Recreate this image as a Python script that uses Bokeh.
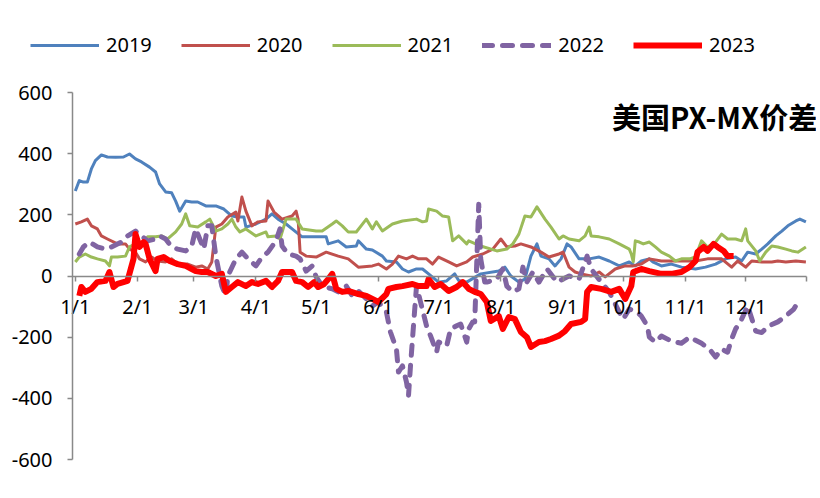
from bokeh.plotting import figure
from bokeh.models import Range1d, FixedTicker, Legend, LegendItem, Label
from bokeh.embed import file_html
from bokeh.resources import INLINE

# x = day of year (0 = 1/1)
month_ticks = [0, 31, 59, 90, 120, 151, 181, 212, 243, 273, 304, 334]
month_labels = ["1/1", "2/1", "3/1", "4/1", "5/1", "6/1", "7/1", "8/1", "9/1", "10/1", "11/1", "12/1"]
x_start = -1.4
x_end = 364.3
y_ticks = [-600, -400, -200, 0, 200, 400, 600]
y_tick_labels = ["-600", "-400", "-200", "0", "200", "400", "600"]

d2019 = [0, 2, 4, 6, 8, 10, 13, 16, 20, 24, 27, 30, 33, 37, 40, 42, 45, 48, 50, 52, 55, 58, 61, 65, 70, 74, 78, 81, 84, 85,
         90, 95, 98, 101, 105, 108, 113, 118, 125, 126, 131, 135, 140, 141, 145, 148, 153, 155, 160, 163, 166, 170, 173, 176,
         181, 185, 189, 191, 195, 202, 211, 214, 217, 221, 224, 227, 230, 232, 236, 239, 242, 245, 247, 251, 256, 261, 266,
         271, 276, 279, 282, 286, 288, 292, 297, 302, 309, 314, 319, 324, 329, 332, 335, 339, 342, 345, 349, 352, 355, 359,
         361, 364]
v2019 = [278, 312, 307, 307, 350, 377, 396, 389, 388, 389, 399, 383, 373, 356, 340, 301, 275, 272, 245, 212, 245, 242, 242,
         229, 229, 219, 196, 193, 193, 160, 170, 186, 203, 186, 170, 154, 128, 128, 128, 105, 115, 95, 98, 115, 88, 85, 65,
         49, 46, 23, 13, 23, 23, 7, -20, -16, 7, -15, -20, 7, 16, 29, 0, -20, -10, 65, 105, 65, 56, 33, 56, 105, 95, 56, 56,
         62, 49, 33, 46, 33, 49, 56, 45, 33, 39, 29, 23, 29, 39, 56, 62, 49, 78, 72, 88, 105, 131, 147, 164, 180, 186, 177]

d2020 = [0, 3, 6, 8, 11, 13, 16, 21, 25, 27, 30, 32, 35, 38, 41, 45, 48, 51, 56, 60, 63, 66, 68, 70, 73, 76, 80, 81, 83, 85,
         88, 91, 95, 96, 99, 103, 108, 110, 111, 112, 115, 120, 125, 131, 136, 141, 148, 151, 155, 158, 161, 165, 168, 171,
         175, 178, 181, 186, 190, 195, 198, 203, 208, 212, 215, 219, 222, 227, 232, 236, 241, 243, 246, 249, 252, 257, 261,
         264, 269, 274, 278, 282, 286, 292, 301, 309, 315, 322, 327, 330, 334, 337, 342, 347, 350, 354, 359, 364]
v2020 = [170, 177, 186, 164, 154, 131, 121, 105, 105, 88, 78, 56, 46, 62, 49, 46, 56, 39, 39, 29, 33, 23, 46, 160, 170, 193,
         209, 180, 258, 212, 164, 177, 180, 245, 209, 186, 196, 212, 186, 78, 65, 62, 78, 65, 56, 29, 33, 39, 23, 39, 65, 56,
         65, 56, 56, 39, 62, 46, 33, 46, 62, 72, 88, 121, 95, 98, 105, 95, 78, 62, 72, 78, 29, 13, 7, 0, 13, -3, 23, 33, 33,
         39, 56, 49, 49, 49, 56, 56, 29, 49, 29, 49, 46, 46, 49, 46, 49, 46]

d2021 = [0, 2, 5, 8, 11, 15, 17, 18, 21, 25, 27, 30, 33, 36, 40, 43, 46, 50, 53, 55, 57, 61, 65, 67, 70, 73, 76, 78, 80, 82,
         85, 90, 95, 96, 100, 102, 105, 110, 113, 120, 123, 128, 130, 133, 136, 140, 145, 148, 150, 153, 158, 163, 170, 173,
         175, 176, 180, 183, 186, 188, 191, 195, 196, 202, 210, 215, 218, 221, 224, 227, 230, 234, 237, 241, 243, 246, 251,
         254, 256, 257, 261, 266, 271, 276, 277, 278, 279, 281, 283, 286, 289, 292, 296, 299, 302, 306, 309, 312, 315, 319,
         322, 325, 329, 332, 334, 335, 339, 341, 344, 347, 350, 354, 357, 360, 364]
v2021 = [46, 62, 72, 62, 56, 49, 33, 62, 62, 65, 95, 105, 105, 128, 128, 131, 121, 144, 170, 203, 164, 160, 177, 186, 147,
         154, 170, 186, 160, 144, 154, 131, 144, 128, 131, 121, 186, 186, 154, 147, 147, 170, 180, 164, 144, 144, 186, 154,
         177, 147, 170, 180, 186, 177, 180, 219, 212, 196, 193, 115, 131, 105, 115, 98, 82, 88, 105, 137, 196, 193, 226, 186,
         160, 121, 131, 121, 115, 131, 160, 131, 128, 121, 105, 88, 72, 46, 115, 111, 105, 111, 95, 78, 65, 49, 56, 56, 62,
         115, 95, 111, 137, 121, 121, 115, 154, 115, 82, 49, 78, 98, 95, 88, 82, 78, 95]

d2022 = [2, 4, 7, 11, 15, 18, 23, 26, 30, 33, 36, 40, 42, 45, 48, 51, 55, 58, 60, 62, 64, 66, 68, 70, 73, 75, 76, 80, 83, 86,
         90, 93, 96, 100, 102, 103, 106, 110, 112, 115, 118, 120, 123, 128, 131, 135, 138, 141, 145, 148, 151, 155, 157, 160,
         161, 163, 165, 166, 167, 168, 169, 170, 172, 175, 177, 180, 181, 185, 187, 190, 192, 195, 196, 198, 199, 201, 202,
         204, 205, 210, 213, 215, 218, 221, 223, 225, 228, 231, 235, 240, 243, 246, 251, 255, 257, 262, 266, 271, 273, 276,
         280, 282, 285, 286, 289, 292, 297, 302, 306, 312, 316, 319, 322, 325, 327, 329, 332, 335, 339, 342, 345, 350, 354,
         358, 361]
v2022 = [72, 95, 111, 95, 88, 95, 111, 131, 147, 131, 115, 121, 131, 121, 95, 88, 82, 98, 154, 121, 88, 164, 164, 65, -33,
         -65, 0, 56, 78, 56, 33, 62, 78, 115, 154, 98, 72, 65, 56, 16, 33, -3, -33, -42, -52, -33, -65, -49, -75, -98, -85,
         -118, -183, -239, -314, -294, -347, -392, -294, -206, -118, -33, -85, -163, -196, -249, -216, -229, -173, -163, -157,
         -216, -173, -150, -150, 235, 56, -20, -20, -10, 23, -33, -52, -42, 29, -20, 13, -20, 23, -20, -10, 0, -10, 65, 23,
         -20, -52, -118, -141, -108, -118, -131, -163, -200, -216, -196, -213, -220, -200, -220, -239, -265, -239, -249, -206,
         -173, -141, -98, -180, -185, -165, -150, -131, -108, -75]

d2023 = [2, 3, 5, 8, 11, 15, 17, 19, 21, 24, 26, 29, 30, 32, 34, 35, 37, 40, 41, 44, 47, 51, 55, 58, 60, 63, 66, 70, 73, 75,
         78, 81, 85, 88, 91, 95, 98, 101, 103, 108, 110, 113, 116, 119, 121, 124, 126, 128, 130, 133, 136, 141, 145, 148, 151,
         155, 156, 160, 163, 168, 171, 175, 176, 179, 182, 186, 190, 193, 196, 199, 202, 205, 207, 211, 213, 216, 219, 222,
         225, 227, 231, 234, 237, 241, 244, 247, 252, 254, 255, 257, 262, 267, 271, 274, 277, 278, 282, 286, 292, 297, 302,
         306, 309, 310, 313, 315, 318, 320, 323, 325, 328]
v2023 = [-65, -36, -52, -42, -20, -16, 13, -36, -26, -20, -16, 56, 137, 95, 111, 105, 56, 16, 56, 62, 49, 39, 33, 23, 16, 13,
         13, 0, 7, -52, -36, -20, -33, -20, -26, -16, -36, -16, 13, 13, -16, -20, -36, -20, -36, -26, -10, 7, -42, -52, -49,
         -59, -65, -75, -85, -59, -42, -36, -33, -26, -33, -33, -10, -36, -26, -49, -36, -20, -42, -52, -59, -85, -147, -131,
         -173, -134, -141, -183, -200, -232, -216, -213, -206, -195, -180, -157, -150, -141, -52, -36, -42, -52, -42, -75, -33,
         13, 23, 16, 7, 7, 13, 29, 49, 78, 95, 82, 105, 95, 82, 65, 65]

FONT = "Noto Sans"
AXIS_GRAY = "#898989"

# The frame fills the whole canvas so that legend, title and axis labels are never clipped;
# the ranges are widened so that the plotting area (-1.4..364.3, -600..600) sits where the reference has it.
W, H = 816, 480
SX = 734 / (x_end - x_start)       # px per day
SY = 367 / 1200.0                  # px per unit
X0 = x_start - 72 / SX
X1 = X0 + W / SX
Y1 = 600 + 92 / SY
Y0 = Y1 - H / SY

p = figure(width=W, height=H, output_backend="svg", toolbar_location=None, title=None,
           x_range=Range1d(X0, X1), y_range=Range1d(Y0, Y1),
           min_border=0, min_border_left=0, min_border_right=0, min_border_top=0, min_border_bottom=0)
p.outline_line_color = None
p.grid.visible = False
p.background_fill_color = "white"
p.border_fill_color = "white"

# y axis at x = start of the year
ya = p.yaxis[0]
ya.fixed_location = x_start
ya.bounds = (-600, 600)
ya.ticker = FixedTicker(ticks=y_ticks)
ya.major_label_overrides = {t: lab for t, lab in zip(y_ticks, y_tick_labels)}
ya.axis_line_color = AXIS_GRAY
ya.axis_line_width = 1.5
ya.major_tick_line_color = AXIS_GRAY
ya.major_tick_line_width = 1.5
ya.major_tick_out = 5
ya.major_tick_in = 0
ya.minor_tick_line_color = None
ya.major_label_standoff = 15
ya.major_label_text_font = FONT
ya.major_label_text_font_size = "20px"
ya.major_label_text_color = "black"

# x axis crossing at zero
xa = p.xaxis[0]
xa.fixed_location = 0
xa.bounds = (x_start, x_end)
xa.ticker = FixedTicker(ticks=month_ticks + [x_end])
overrides = {t: lab for t, lab in zip(month_ticks, month_labels)}
overrides[x_end] = ""
xa.major_label_overrides = overrides
xa.axis_line_color = AXIS_GRAY
xa.axis_line_width = 1.5
xa.major_tick_line_color = AXIS_GRAY
xa.major_tick_line_width = 1.5
xa.major_tick_out = 5
xa.major_tick_in = 0
xa.minor_tick_line_color = None
xa.major_label_standoff = 12
xa.major_label_text_font = FONT
xa.major_label_text_font_size = "20px"
xa.major_label_text_color = "black"

r19 = p.line(d2019, v2019, line_color="#4F81BD", line_width=3, line_join="round")
r20 = p.line(d2020, v2020, line_color="#C0504D", line_width=3, line_join="round")
r21 = p.line(d2021, v2021, line_color="#9BBB59", line_width=3, line_join="round")
r22 = p.line(d2022, v2022, line_color="#8064A2", line_width=5, line_dash="10 10",
             line_cap="round", line_join="round")
r23 = p.line(d2023, v2023, line_color="#FF0000", line_width=6, line_join="round")

legend = Legend(items=[LegendItem(label="2019", renderers=[r19]),
                       LegendItem(label="2020", renderers=[r20]),
                       LegendItem(label="2021", renderers=[r21]),
                       LegendItem(label="2022", renderers=[r22]),
                       LegendItem(label="2023", renderers=[r23])],
                orientation="horizontal", location=(30, 422),
                glyph_width=69, glyph_height=20, label_height=20, label_standoff=7,
                spacing=29, padding=0, margin=0,
                border_line_color=None, background_fill_alpha=0,
                label_text_font=FONT, label_text_font_size="20px", label_text_color="black")
p.add_layout(legend)

title = Label(x=369.6, y=523, text="美国PX-MX价差", text_align="right", text_baseline="middle",
              text_font="Noto Sans CJK SC", text_font_size="29px", text_font_style="bold",
              text_color="black")
p.add_layout(title)

open("out.html", "w").write(file_html(p, INLINE))
